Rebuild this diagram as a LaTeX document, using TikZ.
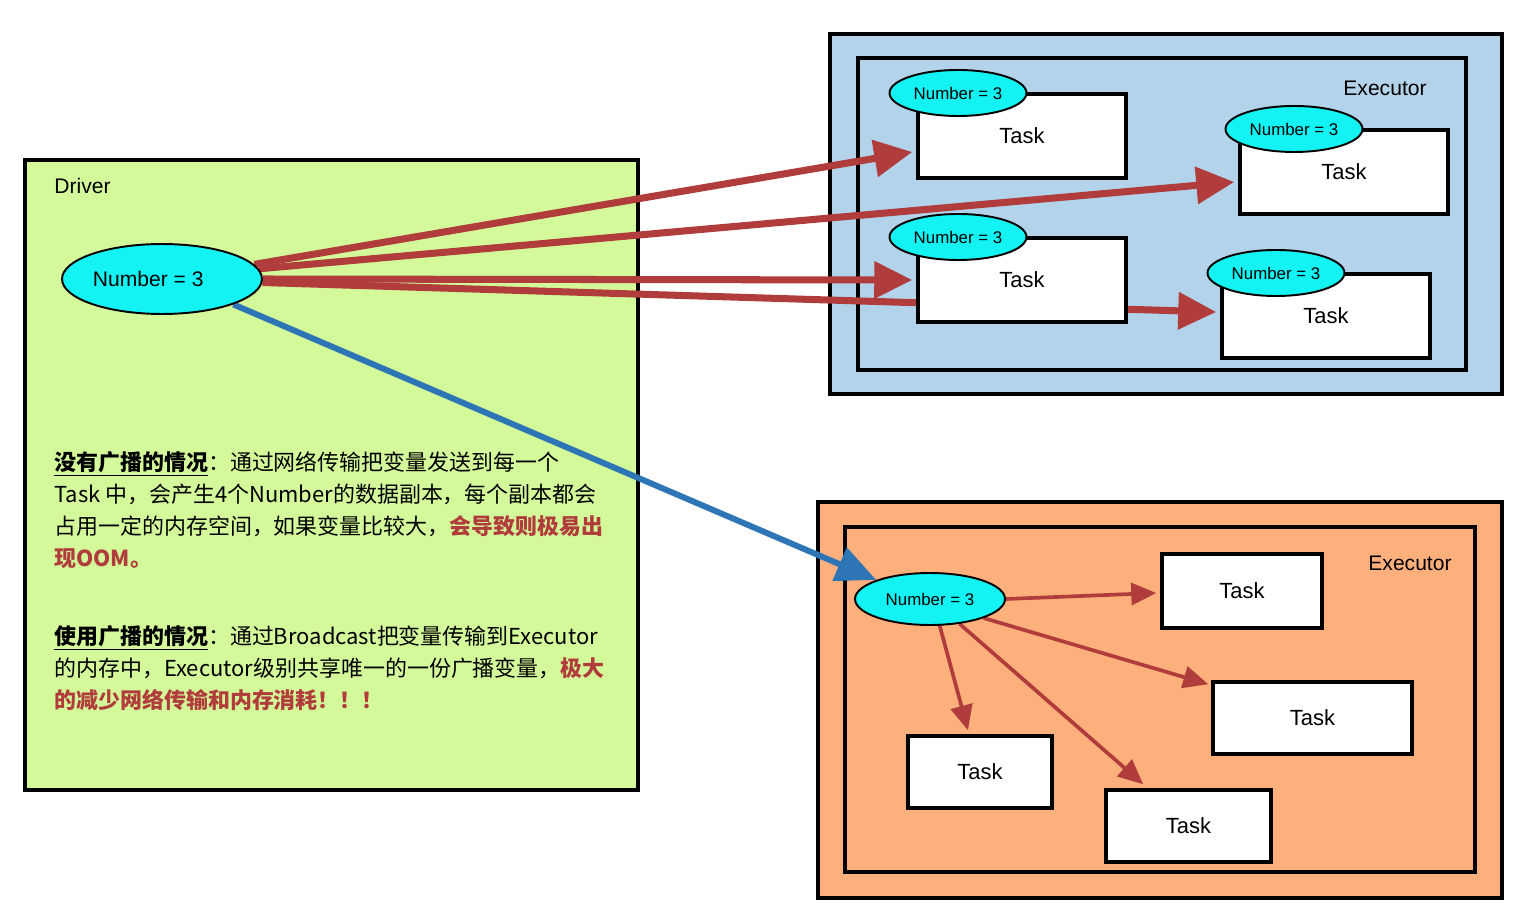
\documentclass[tikz,border=0pt]{standalone}
\usepackage{fontspec}
\setmainfont{Liberation Sans}
\newfontfamily\cjk{Noto Sans CJK SC}
\usepackage{tikz}
\usetikzlibrary{calc,shapes.geometric,arrows.meta,positioning,fit}
\definecolor{drvgreen}{HTML}{D4F99A}
\definecolor{exblue}{HTML}{B3D3EA}
\definecolor{exorange}{HTML}{FEB07C}
\definecolor{numcyan}{HTML}{14F3F3}
\definecolor{bcred}{HTML}{B03C3C}
\definecolor{bcblue}{HTML}{2E75B6}
\pgfdeclarelayer{boxes}
\pgfdeclarelayer{links}
\pgfsetlayers{boxes,links,main}

\begin{document}
\begin{tikzpicture}[x=0.02cm,y=-0.02cm]
  \tikzset{
    frame/.style={draw=black, line width=2pt, inner sep=0pt},
    task/.style={draw=black, fill=white, line width=2pt, inner sep=0pt,
      label={[font=\fontsize{12.5}{14}\selectfont, inner sep=0pt]center:#1}},
    numbig/.style={ellipse, draw=black, fill=numcyan, line width=1.1pt, inner sep=0pt, minimum width=4cm, minimum height=1.4cm, font=\fontsize{12}{14}\selectfont},
    numsmall/.style={ellipse, draw=black, fill=numcyan, line width=1.1pt, inner sep=0pt, minimum width=2.74cm, minimum height=0.92cm, font=\fontsize{9.6}{11}\selectfont},
    numlocal/.style={numsmall, minimum width=3cm, minimum height=1.04cm},
    lbl/.style={inner sep=0pt, font=\fontsize{12}{14}\selectfont},
    note/.style={inner sep=0pt, align=left, font=\cjk\fontsize{12.5}{18.2}\selectfont},
    copyarrow/.style={bcred, line width=4pt, -{Triangle[length=0.76cm,width=0.72cm]}},
    localarrow/.style={bcred, line width=2.1pt, -{Triangle[length=0.5cm,width=0.44cm]}},
    bcastarrow/.style={bcblue, line width=3.4pt, -{Triangle[length=0.8cm,width=0.7cm]}}
  }
  \useasboundingbox (0,0) rectangle (1526,912);

  % containers
  \begin{pgfonlayer}{boxes}
    \node[frame, fill=drvgreen, fit={(25,160) (638,790)}] (driver) {};
    \node[frame, fill=exblue, fit={(830,34) (1502,394)}] (execA) {};
    \node[frame, fill=exblue, fit={(858,58) (1466,370)}] (execAin) {};
    \node[frame, fill=exorange, fit={(818,502) (1502,898)}] (execB) {};
    \node[frame, fill=exorange, fit={(845,527) (1475,872)}] (execBin) {};
  \end{pgfonlayer}

  \node[lbl, anchor=west] (drvlabel) at (54,186) {Driver};
  \node[lbl] (execAlabel) at (1385,88) {Executor};
  \node[lbl] (execBlabel) at (1410,563) {Executor};

  % driver variable
  \node[numbig] (drvnum) at (162,279) {\kern-1.3em Number = 3};

  % executor without broadcast
  \node[task=Task, fit={(918,94) (1126,178)}] (taskA) {};
  \node[task=Task, fit={(1240,130) (1448,214)}] (taskB) {};
  \node[task=Task, fit={(918,238) (1126,322)}] (taskC) {};
  \node[task=Task, fit={(1222,274) (1430,358)}] (taskD) {};
  \node[numsmall] (numA) at (958,93) {Number = 3};
  \node[numsmall] (numB) at (1294,129) {Number = 3};
  \node[numsmall] (numC) at (958,237) {Number = 3};
  \node[numsmall] (numD) at (1276,273) {Number = 3};

  % executor with broadcast
  \node[numlocal] (bcnum) at (930,599) {Number = 3};
  \node[task=Task, fit={(1162,554) (1322,628)}] (taskE) {};
  \node[task=Task, fit={(1213,682) (1412,754)}] (taskF) {};
  \node[task=Task, fit={(908,736) (1052,808)}] (taskG) {};
  \node[task=Task, fit={(1106,790) (1271,862)}] (taskH) {};

  % copies sent to every task
  \begin{pgfonlayer}{links}
    \draw[copyarrow] (drvnum.9) -- ($(taskA.west)+(-4,16)$);
    \draw[copyarrow] (drvnum.6) -- ($(taskB.west)+(-4,10)$);
    \draw[copyarrow] (drvnum.east) -- ($(taskC.west)+(-4,0)$);
    \draw[copyarrow] (drvnum.-2) -- ($(taskD.west)+(-4,-4)$);
    \draw[bcastarrow] (drvnum.south east) -- (bcnum.north west);
    \draw[localarrow] (bcnum.east) -- ($(taskE.west)+(-4,2)$);
    \draw[localarrow] (bcnum.south east) -- ($(taskF.north west)+(-3,4)$);
    \draw[localarrow] (bcnum.-40) -- ($(taskH.north west)+(39,-4)$);
    \draw[localarrow] (bcnum.-70) -- ($(taskG.north)+(-12,-4)$);
  \end{pgfonlayer}

  % notes
  \node[note, anchor=north west] (noteA) at (54,451)
    {\underline{\textbf{没有广播的情况}}：通过网络传输把变量发送到每一个\\
     Task 中，会产生4个Number的数据副本，每个副本都会\\
     占用一定的内存空间，如果变量比较大，\textcolor{bcred}{\textbf{会导致则极易出}}\\
     \textcolor{bcred}{\textbf{现OOM。}}};
  \node[note, anchor=north west] (noteB) at (54,625)
    {\underline{\textbf{使用广播的情况}}：通过Broadcast把变量传输到Executor\\
     的内存中，Executor级别共享唯一的一份广播变量，\textcolor{bcred}{\textbf{极大}}\\
     \textcolor{bcred}{\textbf{的减少网络传输和内存消耗！！！}}};
\end{tikzpicture}
\end{document}
